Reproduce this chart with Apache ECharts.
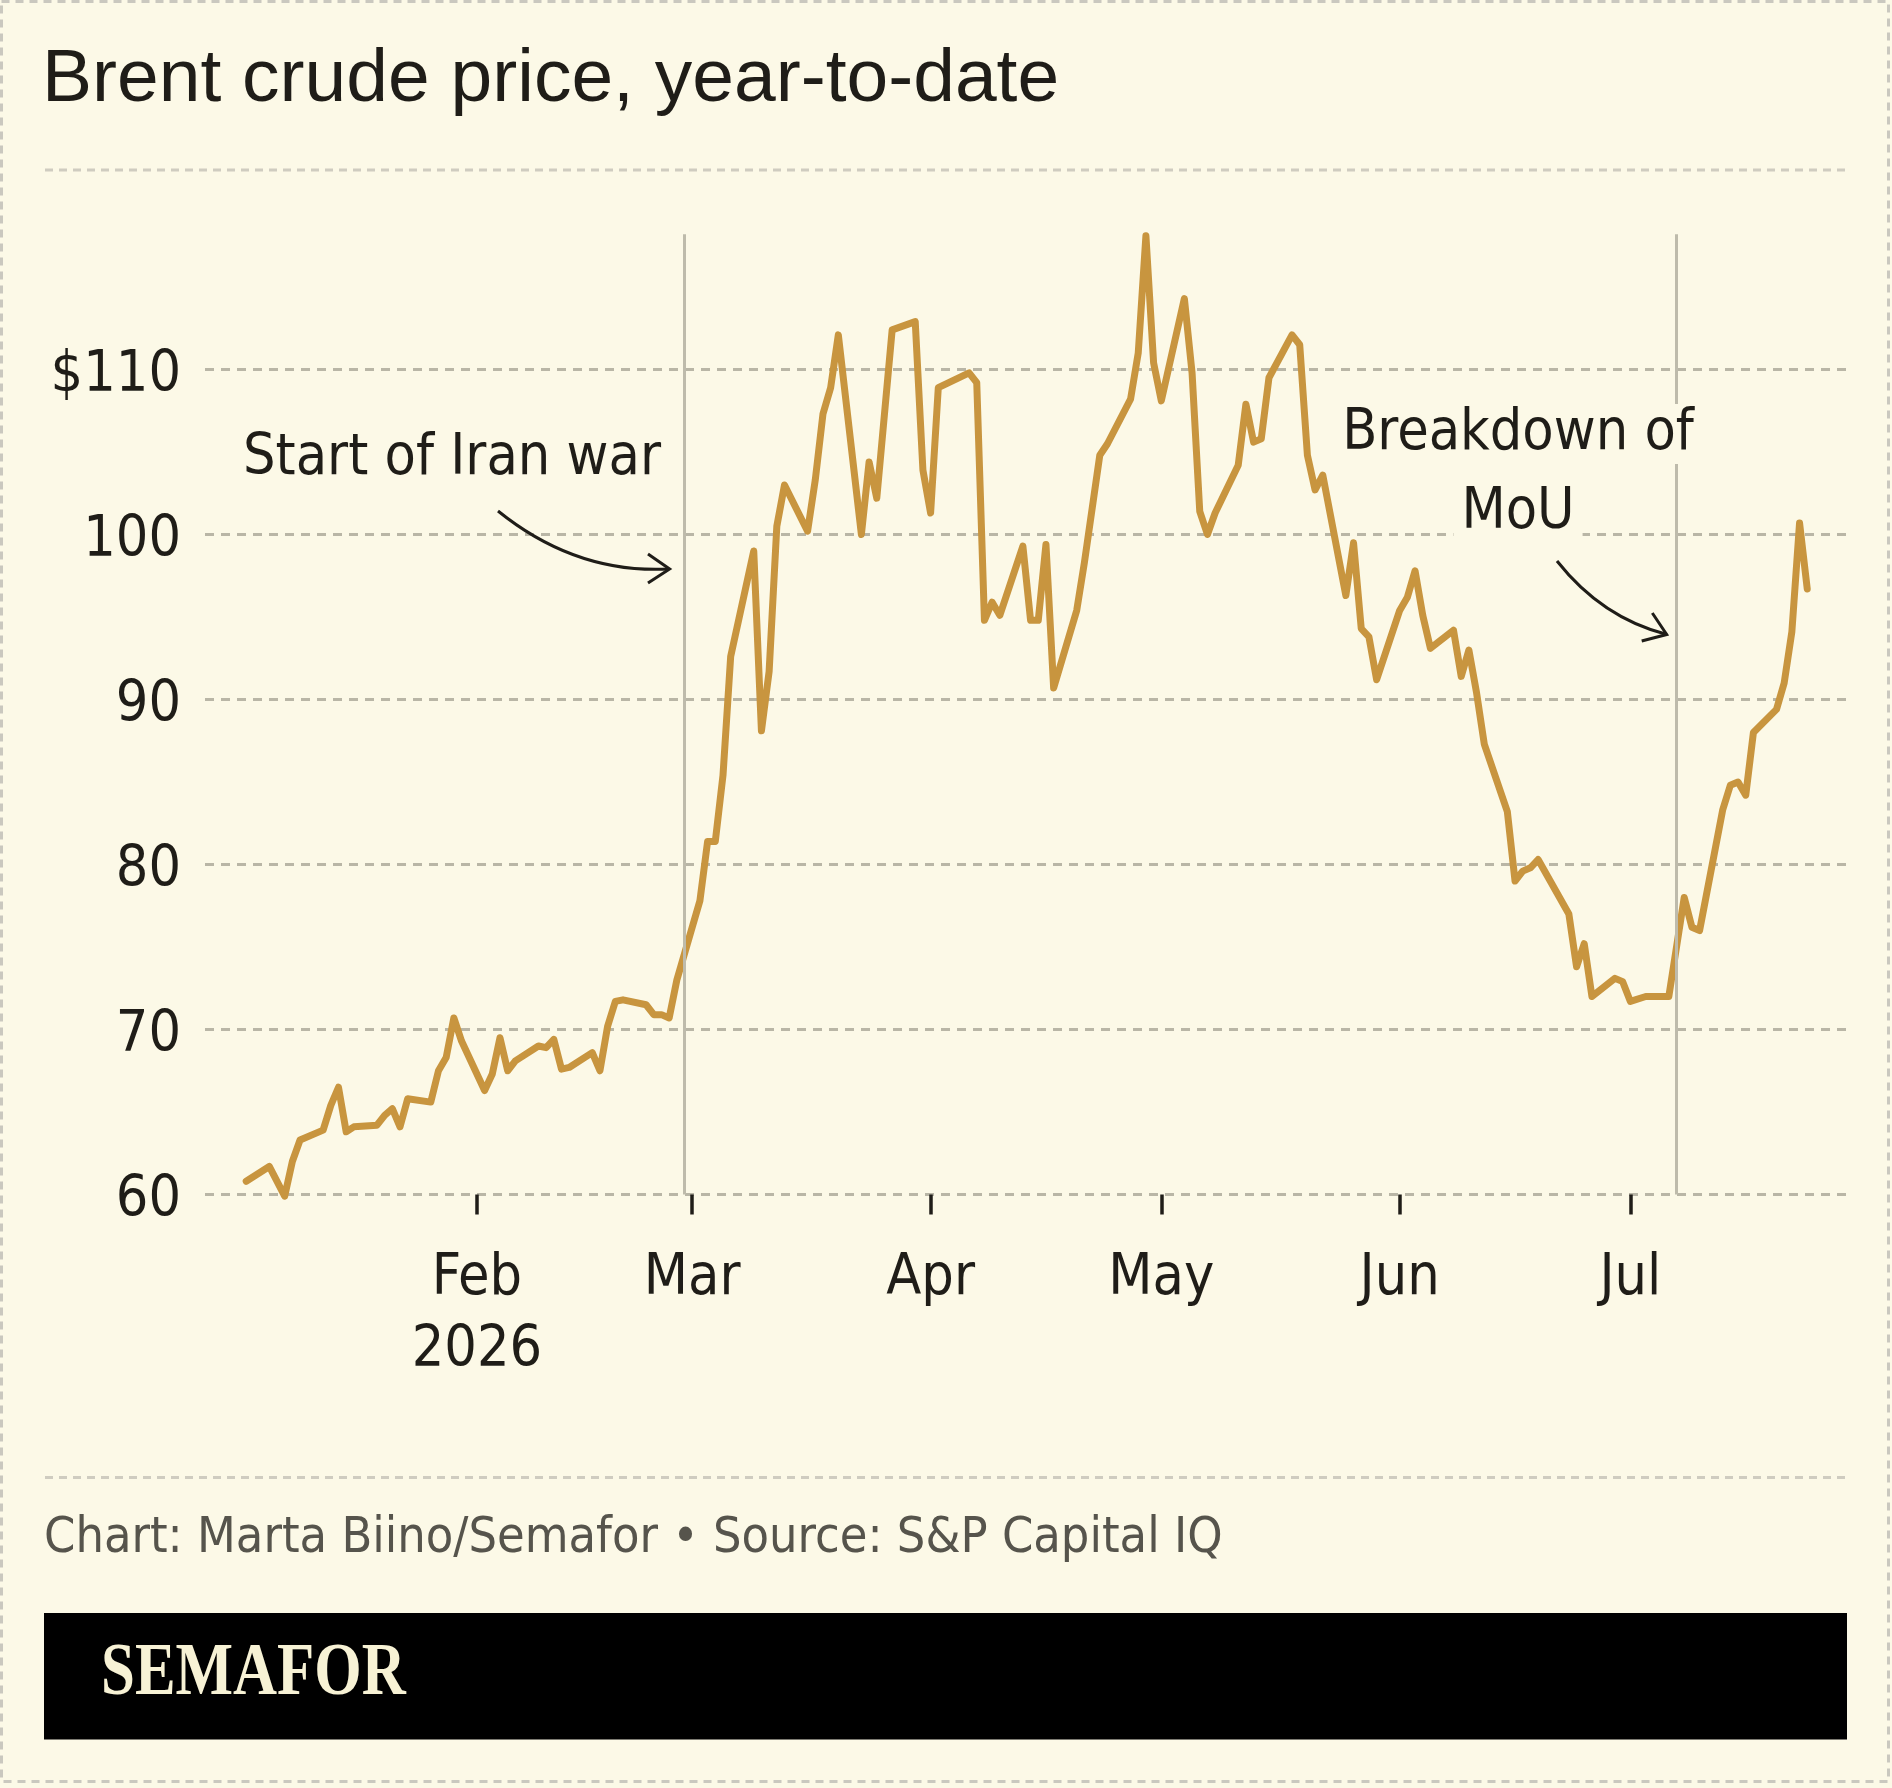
<!DOCTYPE html>
<html>
<head>
<meta charset="utf-8">
<title>Brent crude price, year-to-date</title>
<script src="https://cdn.jsdelivr.net/npm/echarts@6/dist/echarts.min.js"></script>
<style>
  html, body { margin: 0; padding: 0; background: #fcf9e7; }
  #chart { width: 1892px; height: 1788px; }
</style>
</head>
<body>
<div id="chart"></div>
<script>
// Brent crude, $ per barrel, trading days
const dates = [
  '2026-01-02', '2026-01-05', '2026-01-07', '2026-01-08', '2026-01-09',
  '2026-01-12', '2026-01-13', '2026-01-14', '2026-01-15', '2026-01-16',
  '2026-01-19', '2026-01-20', '2026-01-21', '2026-01-22', '2026-01-23',
  '2026-01-26', '2026-01-27', '2026-01-28', '2026-01-29', '2026-01-30',
  '2026-02-02', '2026-02-03', '2026-02-04', '2026-02-05', '2026-02-06',
  '2026-02-09', '2026-02-10', '2026-02-11', '2026-02-12', '2026-02-13',
  '2026-02-16', '2026-02-17', '2026-02-18', '2026-02-19', '2026-02-20',
  '2026-02-23', '2026-02-24', '2026-02-25', '2026-02-26', '2026-02-27',
  '2026-03-02', '2026-03-03', '2026-03-04', '2026-03-05', '2026-03-06',
  '2026-03-09', '2026-03-10', '2026-03-11', '2026-03-12', '2026-03-13',
  '2026-03-16', '2026-03-17', '2026-03-18', '2026-03-19', '2026-03-20',
  '2026-03-23', '2026-03-24', '2026-03-25', '2026-03-27',
  '2026-03-30', '2026-03-31', '2026-04-01', '2026-04-02',
  '2026-04-06', '2026-04-07', '2026-04-08', '2026-04-09', '2026-04-10',
  '2026-04-13', '2026-04-14', '2026-04-15', '2026-04-16', '2026-04-17',
  '2026-04-20', '2026-04-21', '2026-04-23', '2026-04-24',
  '2026-04-27', '2026-04-28', '2026-04-29', '2026-04-30', '2026-05-01',
  '2026-05-04', '2026-05-05', '2026-05-06', '2026-05-07', '2026-05-08',
  '2026-05-11', '2026-05-12', '2026-05-13', '2026-05-14', '2026-05-15',
  '2026-05-18', '2026-05-19', '2026-05-20', '2026-05-21', '2026-05-22',
  '2026-05-25', '2026-05-26', '2026-05-27', '2026-05-28', '2026-05-29',
  '2026-06-01', '2026-06-02', '2026-06-03', '2026-06-04', '2026-06-05',
  '2026-06-08', '2026-06-09', '2026-06-10', '2026-06-11', '2026-06-12',
  '2026-06-15', '2026-06-16', '2026-06-17', '2026-06-18', '2026-06-19',
  '2026-06-23', '2026-06-24', '2026-06-25', '2026-06-26',
  '2026-06-29', '2026-06-30', '2026-07-01', '2026-07-03',
  '2026-07-06', '2026-07-08', '2026-07-09', '2026-07-10',
  '2026-07-13', '2026-07-14', '2026-07-15', '2026-07-16', '2026-07-17',
  '2026-07-20', '2026-07-21', '2026-07-22', '2026-07-23', '2026-07-24'
];
const prices = [
  60.8, 61.7, 59.9, 62.0, 63.3,
  63.9, 65.4, 66.5, 63.8, 64.1,
  64.2, 64.8, 65.2, 64.1, 65.8,
  65.6, 67.5, 68.3, 70.7, 69.3,
  66.3, 67.3, 69.5, 67.5, 68.1,
  69.0, 68.9, 69.4, 67.6, 67.7,
  68.6, 67.5, 70.2, 71.7, 71.8,
  71.5, 70.9, 70.9, 70.7, 73.0,
  77.8, 81.4, 81.4, 85.4, 92.6,
  99.0, 88.1, 91.7, 100.5, 103.0,
  100.2, 103.3, 107.3, 108.9, 112.1,
  100.0, 104.4, 102.2, 112.4,
  112.9, 103.9, 101.3, 108.9,
  109.8, 109.2, 94.8, 95.9, 95.1,
  99.3, 94.8, 94.8, 99.4, 90.7,
  95.4, 98.3, 104.8, 105.5,
  108.2, 111.0, 118.1, 110.4, 108.1,
  114.3, 109.8, 101.4, 100.0, 101.3,
  104.2, 107.9, 105.6, 105.8, 109.5,
  112.1, 111.5, 104.8, 102.7, 103.6,
  96.3, 99.5, 94.3, 93.8, 91.2,
  95.4, 96.2, 97.8, 95.1, 93.1,
  94.2, 91.4, 93.0, 90.4, 87.3,
  83.2, 79.0, 79.6, 79.8, 80.3,
  77.0, 73.8, 75.2, 72.0,
  73.1, 72.9, 71.7, 72.0,
  72.0, 78.0, 76.2, 76.0,
  83.3, 84.8, 85.0, 84.2, 88.0,
  89.4, 91.0, 94.1, 100.7, 96.7
];

const tickDates = ['2026-02-01', '2026-03-01', '2026-04-01', '2026-05-01', '2026-06-01', '2026-07-01'];
const tickLabels = ['Feb\n2026', 'Mar', 'Apr', 'May', 'Jun', 'Jul'];

// start of Iran war, breakdown of MoU
const eventDates = ['2026-02-28', '2026-07-07'];

const BG = '#fcf9e7';
const INK = '#1f1d18';
const GOLD = '#c8953f';
const GRID = '#b9b6a6';
const RULE = '#cfccc0';
const MUTED = '#56544c';
const COND = "'DejaVu Sans Condensed', 'DejaVu Sans', sans-serif";

const DAY = 86400000;
const toTime = s => {
  const [y, m, d] = s.split('-').map(Number);
  return Date.UTC(y, m - 1, d);
};
const jan1 = toTime('2026-01-01');
const tickTimes = tickDates.map(toTime);

const chart = echarts.init(document.getElementById('chart'), null, { renderer: 'canvas' });

chart.setOption({
  backgroundColor: BG,
  animation: false,
  textStyle: { fontFamily: COND },
  grid: { left: 205, right: 46, top: 234.2, bottom: 593.5, outerBoundsMode: 'none' },
  xAxis: {
    type: 'value',
    min: jan1 - 4.36 * DAY,
    max: jan1 + 209.04 * DAY,
    axisLine: { show: false },
    splitLine: { show: false },
    axisTick: {
      show: true,
      customValues: tickTimes,
      length: 20,
      lineStyle: { color: INK, width: 3.5 }
    },
    axisLabel: {
      customValues: tickTimes,
      formatter: v => {
        const i = tickTimes.indexOf(+v);
        return i >= 0 ? tickLabels[i] : '';
      },
      hideOverlap: false,
      fontFamily: COND,
      fontSize: 57,
      lineHeight: 72,
      color: INK,
      margin: 49
    }
  },
  yAxis: {
    type: 'value',
    min: 60,
    max: 118.2,
    interval: 10,
    axisLine: { show: false },
    axisTick: { show: false },
    splitLine: {
      show: true,
      showMaxLine: false,
      lineStyle: { color: GRID, width: 3, type: [9, 7] }
    },
    axisLabel: {
      showMaxLabel: false,
      formatter: v => (v === 110 ? '$110' : String(v)),
      fontFamily: COND,
      fontSize: 57,
      color: INK,
      verticalAlign: 'top',
      lineHeight: 14,
      margin: 24
    }
  },
  series: [
    {
      type: 'line',
      data: dates.map((d, i) => [toTime(d), prices[i]]),
      showSymbol: false,
      symbol: 'none',
      clip: false,
      silent: true,
      lineStyle: { color: GOLD, width: 7, join: 'round', cap: 'round' },
      markLine: {
        silent: true,
        symbol: ['none', 'none'],
        label: { show: false },
        lineStyle: { color: '#bebbab', width: 3, type: 'solid' },
        data: eventDates.map(d => ({ xAxis: toTime(d) }))
      }
    }
  ],
  graphic: [
    {
      type: 'rect', silent: true,
      shape: { x: 1.5, y: 1.5, width: 1887, height: 1780 },
      style: { fill: 'none', stroke: '#cac8bf', lineWidth: 3, lineDash: [8, 6] }
    },
    {
      type: 'text', x: 42, y: 80, silent: true,
      style: {
        text: 'Brent crude price, year-to-date',
        fontSize: 75, fontFamily: "'Liberation Sans', Arial, sans-serif",
        fill: INK, align: 'left', verticalAlign: 'middle',
        textAlign: 'left', textVerticalAlign: 'middle'
      }
    },
    {
      type: 'line', silent: true,
      shape: { x1: 45, y1: 170, x2: 1847, y2: 170 },
      style: { stroke: RULE, lineWidth: 3, lineDash: [8, 6] }
    },
    // annotations
    {
      type: 'text', x: 243, y: 459, z: 100, silent: true,
      style: {
        text: 'Start of Iran war',
        fontSize: 57, fontFamily: COND, fill: INK,
        align: 'left', verticalAlign: 'middle',
        textAlign: 'left', textVerticalAlign: 'middle'
      }
    },
    {
      type: 'bezierCurve', z: 100, silent: true,
      shape: { x1: 498, y1: 511, cpx1: 576, cpy1: 574, x2: 669, y2: 569 },
      style: { fill: 'none', stroke: INK, lineWidth: 3 }
    },
    {
      type: 'polyline', z: 100, silent: true,
      shape: { points: [[648, 554], [669.6, 569], [648, 583]] },
      style: { fill: 'none', stroke: INK, lineWidth: 3 }
    },
    {
      type: 'text', x: 1518, y: 434, z: 100, silent: true,
      style: {
        text: 'Breakdown of',
        fontSize: 57, fontFamily: COND, fill: INK,
        align: 'center', verticalAlign: 'middle',
        textAlign: 'center', textVerticalAlign: 'middle',
        backgroundColor: BG, padding: [0, 8], lineHeight: 60
      }
    },
    {
      type: 'text', x: 1518, y: 513, z: 100, silent: true,
      style: {
        text: 'MoU',
        fontSize: 57, fontFamily: COND, fill: INK,
        align: 'center', verticalAlign: 'middle',
        textAlign: 'center', textVerticalAlign: 'middle',
        backgroundColor: BG, padding: [0, 8], lineHeight: 60
      }
    },
    {
      type: 'bezierCurve', z: 100, silent: true,
      shape: { x1: 1557, y1: 561, cpx1: 1602, cpy1: 618, x2: 1667, y2: 634.5 },
      style: { fill: 'none', stroke: INK, lineWidth: 3 }
    },
    {
      type: 'polyline', z: 100, silent: true,
      shape: { points: [[1652.3, 613], [1666.7, 634.5], [1641.7, 641]] },
      style: { fill: 'none', stroke: INK, lineWidth: 3 }
    },
    // footer
    {
      type: 'line', silent: true,
      shape: { x1: 45, y1: 1477.5, x2: 1847, y2: 1477.5 },
      style: { stroke: RULE, lineWidth: 3, lineDash: [8, 6] }
    },
    {
      type: 'text', x: 44, y: 1539, silent: true,
      style: {
        text: 'Chart: Marta Biino/Semafor \u2022 Source: S&P Capital IQ',
        fontSize: 50, fontFamily: COND, fill: MUTED,
        align: 'left', verticalAlign: 'middle',
        textAlign: 'left', textVerticalAlign: 'middle'
      }
    },
    {
      type: 'rect', silent: true,
      shape: { x: 44, y: 1613, width: 1803, height: 126.5 },
      style: { fill: '#000' }
    },
    {
      type: 'text', x: 101, y: 1675.5, scaleX: 0.835, silent: true,
      style: {
        text: 'SEMAFOR',
        fontSize: 73, fontWeight: 'bold',
        fontFamily: "'Liberation Serif', 'Times New Roman', serif",
        fill: '#f7f2d5',
        align: 'left', verticalAlign: 'middle',
        textAlign: 'left', textVerticalAlign: 'middle'
      }
    }
  ]
});
</script>
</body>
</html>
